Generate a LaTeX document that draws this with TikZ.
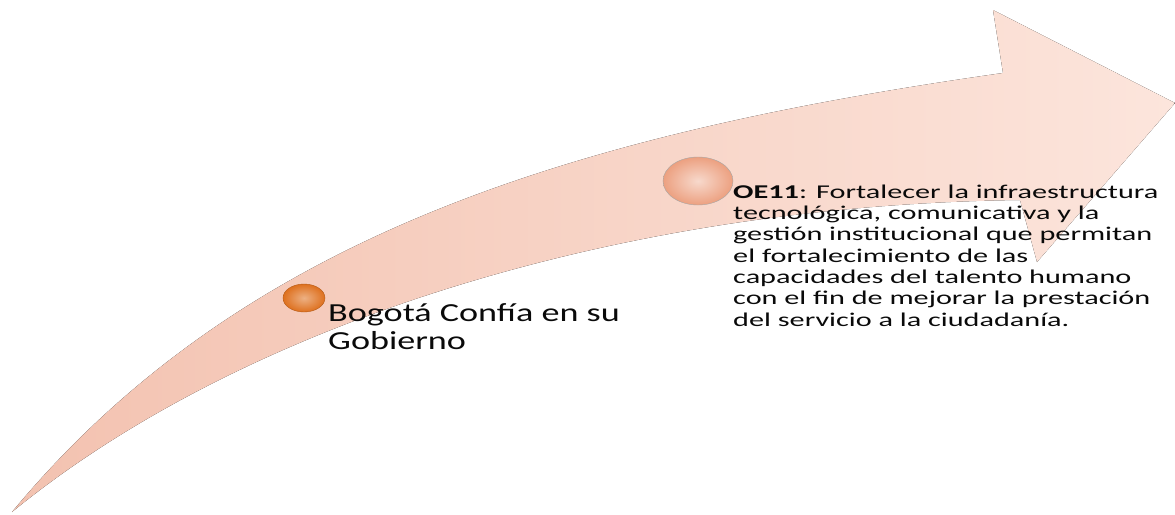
\documentclass[tikz,border=0pt]{standalone}
\usepackage{fontspec}
\usetikzlibrary{shapes.geometric}
\setmainfont{Carlito}
\newfontfamily\leftfont{Carlito}[FakeStretch=1.39]
\newfontfamily\rightfont{Carlito}[FakeStretch=1.55]
\definecolor{TailPink}{RGB}{243,194,176}
\definecolor{HeadPink}{RGB}{252,229,220}
\definecolor{DotOrange}{RGB}{222,112,30}
\definecolor{DotSalmon}{RGB}{236,160,128}
\definecolor{InkGray}{RGB}{10,10,10}
\tikzset{
  dot/.style={ellipse, inner sep=0},
  label text/.style={anchor=base west, align=left, inner sep=0, text=InkGray}
}
\begin{document}
\begin{tikzpicture}[x=1pt,y=-1pt]
    \useasboundingbox (0,0) rectangle (1175,514);
    \coordinate (TailTip)  at (12,512);
    \coordinate (NotchTop) at (1003,73);
    \coordinate (BarbTop)  at (993,10);
    \coordinate (HeadTip)  at (1175,103);
    \coordinate (BarbBot)  at (1037,262);
    \coordinate (NotchBot) at (1020,200);
    \fill [left color=TailPink, right color=HeadPink] (TailTip) .. controls (236,242) and (558,136) .. (NotchTop) -- (BarbTop) -- (HeadTip) -- (BarbBot) -- (NotchBot) .. controls (620,205) and (243,323) .. (TailTip) -- cycle;% Draw curved arrow
    \node (DotOne) [dot, minimum width=42pt, minimum height=28pt, draw=DotOrange!80!black, inner color=DotOrange!55!white, outer color=DotOrange] at (304,298) {};
    \node (DotTwo) [dot, minimum width=70pt, minimum height=48pt, draw=gray!70, inner color=DotSalmon!40!white, outer color=DotSalmon] at (698,181) {};
    % base anchor sits on the last line
    \node (LabelOne) [label text, font=\leftfont\fontsize{26}{28.3}\selectfont] at (328,349.5) {Bogotá Confía en su\\Gobierno};
    \node (LabelTwo) [label text, font=\rightfont\fontsize{19.5}{21.3}\selectfont] at (733,326) {\textbf{OE11}: Fortalecer la infraestructura\\tecnológica, comunicativa y la\\gestión institucional que permitan\\el fortalecimiento de las\\capacidades del talento humano\\con el fin de mejorar la prestación\\del servicio a la ciudadanía.};
\end{tikzpicture}
\end{document}
